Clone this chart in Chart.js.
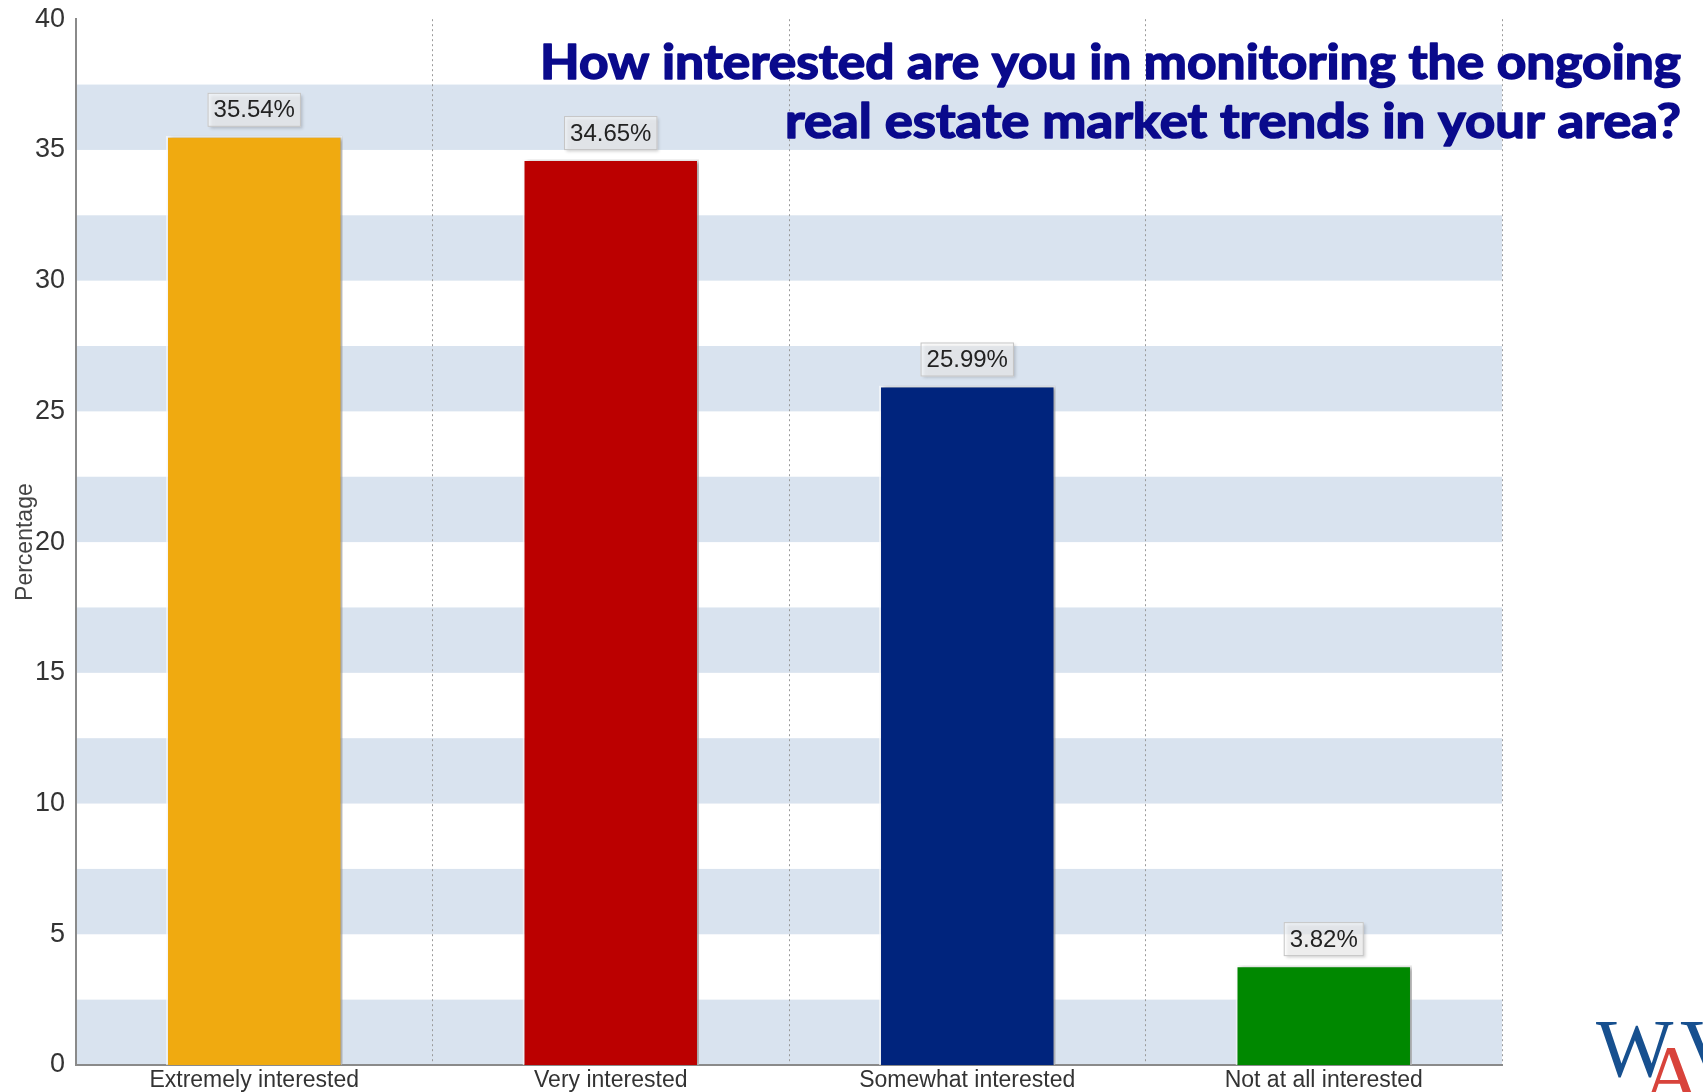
<!DOCTYPE html>
<html>
<head>
<meta charset="utf-8">
<script src="https://cdn.jsdelivr.net/npm/chart.js@4.4.1/dist/chart.umd.min.js"></script>
<style>
  html, body { margin: 0; padding: 0; background: #ffffff; }
  canvas { display: block; }
</style>
</head>
<body>
<canvas id="surveyChart" width="1703" height="1092"></canvas>
<script>
// data
const categories = ['Extremely interested', 'Very interested', 'Somewhat interested', 'Not at all interested'];
const percentages = [35.54, 34.65, 25.99, 3.82];
const barColors = ['#f0aa10', '#bb0000', '#00247d', '#008800'];
const yTicks = [0, 5, 10, 15, 20, 25, 30, 35, 40];
const titleLines = ['How interested are you in monitoring the ongoing', 'real estate market trends in your area?'];

// striped background: light blue band in the lower half of every 5 units
const bandPlugin = {
    id: 'bands',
    beforeDraw(chart) {
        const { ctx, chartArea, scales } = chart;
        ctx.save();
        ctx.fillStyle = '#ffffff';
        ctx.fillRect(0, 0, chart.width, chart.height);
        ctx.fillStyle = '#d9e3ef';
        for (let v = 0; v < 40; v += 5) {
            const y1 = scales.y.getPixelForValue(v);
            const y2 = scales.y.getPixelForValue(v + 2.5);
            ctx.fillRect(chartArea.left, y2, chartArea.right - chartArea.left, y1 - y2);
        }
        ctx.restore();
    }
};

// soft shadow on the bars
const shadowPlugin = {
    id: 'barShadow',
    beforeDatasetsDraw(chart) {
        const ctx = chart.ctx;
        ctx.save();
        ctx.shadowColor = 'rgba(0,0,0,0.35)';
        ctx.shadowOffsetX = 3;
        ctx.shadowOffsetY = 1;
        ctx.shadowBlur = 4;
    },
    afterDatasetsDraw(chart) {
        chart.ctx.restore();
    }
};

// value boxes above bars, title and logo
const labelPlugin = {
    id: 'labels',
    afterDraw(chart) {
        const ctx = chart.ctx;
        const meta = chart.getDatasetMeta(0);
        ctx.save();
        ctx.font = '24px "Liberation Sans", Arial, sans-serif';
        ctx.textAlign = 'center';
        ctx.textBaseline = 'middle';
        meta.data.forEach((bar, i) => {
            const text = percentages[i].toFixed(2) + '%';
            const w = ctx.measureText(text).width + 12;
            const h = 34;
            const x = bar.x - w / 2;
            const y = bar.y - 9 - h;
            ctx.save();
            ctx.shadowColor = 'rgba(0,0,0,0.3)';
            ctx.shadowOffsetX = 2;
            ctx.shadowOffsetY = 2;
            ctx.shadowBlur = 3;
            ctx.fillStyle = 'rgba(255,255,255,0.6)';
            ctx.fillRect(x, y, w, h);
            ctx.restore();
            ctx.strokeStyle = '#c4c4c4';
            ctx.lineWidth = 1;
            ctx.strokeRect(x + 0.5, y + 0.5, w - 1, h - 1);
            ctx.fillStyle = '#222222';
            ctx.fillText(text, bar.x, y + h / 2 + 1);
        });

        // title, right aligned, each line fitted to the width seen in the picture
        ctx.font = 'bold 48px Lato, "DejaVu Sans", sans-serif';
        ctx.fillStyle = '#0a0a8c';
        ctx.strokeStyle = '#0a0a8c';
        ctx.lineWidth = 1.6;
        ctx.lineJoin = 'round';
        ctx.textAlign = 'left';
        ctx.textBaseline = 'alphabetic';
        const rightX = 1681;
        const lineWidths = [1141, 896];
        [79, 138].forEach((baseY, i) => {
            const sx = lineWidths[i] / ctx.measureText(titleLines[i]).width;
            ctx.save();
            ctx.translate(rightX - lineWidths[i], baseY);
            ctx.scale(sx, 1);
            ctx.fillText(titleLines[i], 0, 0);
            ctx.strokeText(titleLines[i], 0, 0);
            ctx.restore();
        });

        // logo in the corner
        ctx.font = '82px "Liberation Serif", "DejaVu Serif", serif';
        ctx.fillStyle = '#17508f';
        ctx.fillText('W', 1596, 1076);
        ctx.fillText('V', 1680, 1076);
        ctx.fillStyle = '#d8433b';
        ctx.fillText('A', 1642, 1102);
        ctx.restore();
    }
};

const ctx = document.getElementById('surveyChart').getContext('2d');
const surveyChart = new Chart(ctx, {
    type: 'bar',
    data: {
        labels: categories,
        datasets: [{
            data: percentages,
            backgroundColor: barColors,
            borderColor: 'rgba(255,255,255,0.65)',
            borderWidth: 2,
            barPercentage: 0.495,
            categoryPercentage: 1.0
        }]
    },
    options: {
        responsive: false,
        animation: false,
        devicePixelRatio: 1,
        layout: { padding: { top: 18, right: 201, left: 0, bottom: 0 } },
        plugins: {
            legend: { display: false },
            tooltip: { enabled: false }
        },
        scales: {
            x: {
                grid: { display: true, color: '#9a9a9a', lineWidth: 1, tickLength: 0, offset: true },
                border: { display: true, color: '#8a8a8a', width: 2, dash: [2, 3] },
                ticks: {
                    color: '#333333',
                    font: { size: 23, family: '"Liberation Sans", Arial, sans-serif' },
                    padding: 2,
                    maxRotation: 0
                },
                afterFit(scale) { scale.height = 27; }
            },
            y: {
                min: 0,
                max: 40,
                afterBuildTicks(scale) { scale.ticks = yTicks.map(v => ({ value: v })); },
                grid: { display: false },
                border: { display: true, color: '#8a8a8a', width: 2 },
                ticks: {
                    color: '#333333',
                    font: { size: 27, family: '"Liberation Sans", Arial, sans-serif' },
                    padding: 3
                },
                title: {
                    display: true,
                    text: 'Percentage',
                    color: '#444444',
                    font: { size: 23, family: '"Liberation Sans", Arial, sans-serif' },
                    padding: { top: 12, bottom: 0 }
                },
                afterFit(scale) { scale.width = 76; }
            }
        }
    },
    plugins: [bandPlugin, shadowPlugin, labelPlugin]
});
</script>
</body>
</html>
